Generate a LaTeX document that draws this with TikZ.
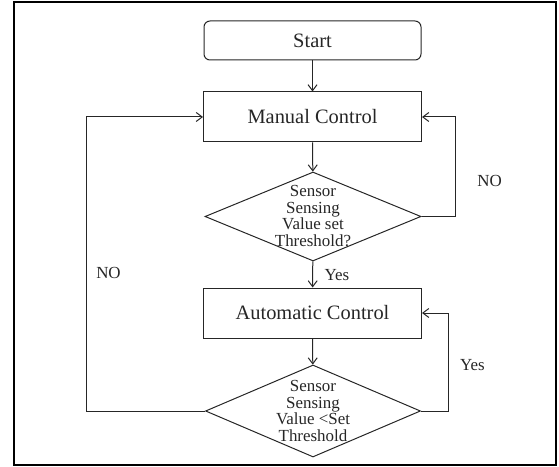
\documentclass[tikz,border=0pt]{standalone}
\usepackage{fontspec}
\setmainfont{Liberation Serif}
\usetikzlibrary{shapes.geometric,arrows.meta}
\tikzset{
  ln/.style={line width=1bp, draw=black!85},
  arr/.style={ln, -{Straight Barb[length=6bp,width=9bp,line width=1bp]}},
  boxtext/.style={font=\fontsize{20.5}{24}\selectfont, text=black!85},
  startbox/.style={ln, rounded corners=6bp, minimum width=217bp, minimum height=39bp, inner sep=0pt, boxtext},
  procbox/.style={ln, minimum width=218bp, minimum height=50bp, inner sep=0pt, boxtext},
  decision/.style={ln, diamond, inner sep=0pt, minimum width=216bp, minimum height=89bp},
  dtext/.style={align=center, inner sep=0pt, font=\fontsize{17}{16.8}\selectfont, text=black!85},
  lbl/.style={inner sep=0pt, font=\fontsize{17}{20}\selectfont, text=black!85}
}
\begin{document}
\begin{tikzpicture}[x=1bp,y=-1bp]
\useasboundingbox (0,0) rectangle (559,467);
\node[draw=black, line width=2bp, minimum width=541bp, minimum height=462bp, inner sep=0pt] (frame) at (285,233.5) {};
\node[startbox] (start) at (312.5,40.5) {Start};
\node[procbox] (manual) at (312.5,117) {Manual Control};
\node[decision] (d1) at (313,216.5) {};
\node[dtext] (d1t) at (313,216) {Sensor\\Sensing\\Value set\\Threshold?};
\node[procbox] (auto) at (312.5,313) {Automatic Control};
\node[decision, minimum height=92bp, minimum width=215bp] (d2) at (313,411) {};
\node[dtext] (d2t) at (313,411) {Sensor\\Sensing\\Value <Set\\Threshold};
\coordinate (r1) at (455,0);
\coordinate (r2) at (448,0);
\coordinate (l1) at (86,0);
\draw[arr] (start) -- (manual);
\draw[arr] (manual) -- (d1);
\draw[arr] (d1) -- (auto);
\draw[arr] (auto) -- (d2);
\draw[arr] (d1.east) -- (d1.east -| r1) |- (manual.east);
\draw[arr] (d2.east) -- (d2.east -| r2) |- (auto.east);
\draw[arr] (d2.west) -- (d2.west -| l1) |- (manual.west);
\node[lbl] (yes1) at (337,275) {Yes};
\node[lbl] (no1) at (489.5,181) {NO};
\node[lbl] (yes2) at (472.5,365) {Yes};
\node[lbl] (no2) at (108.5,273) {NO};
\end{tikzpicture}
\end{document}
